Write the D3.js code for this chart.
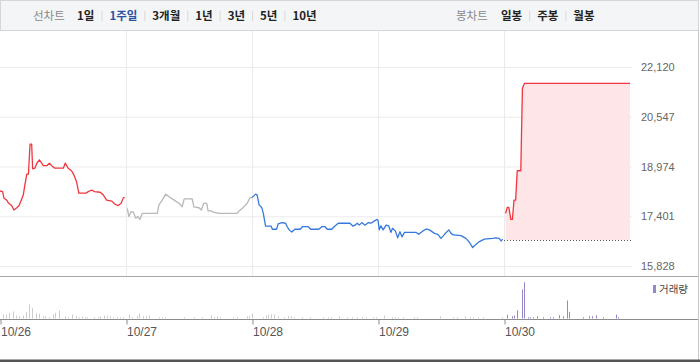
<!DOCTYPE html>
<html>
<head>
<meta charset="utf-8">
<script src="https://cdn.jsdelivr.net/npm/d3@7.9.0/dist/d3.min.js"></script>
<style>
  body { margin: 0; background: #fff; }
  svg { display: block; font-family: "Liberation Sans", Arial, sans-serif; }
  .kr { font-family: "Noto Sans CJK KR", sans-serif; }
</style>
</head>
<body>
<svg id="chart" width="700" height="362"></svg>
<script>
// ---- data ----
const days = ['10/26', '10/27', '10/28', '10/29', '10/30'];
const dayTrend = ['up', 'flat', 'down', 'down', 'up'];
const yTicks = [15828, 17401, 18974, 20547, 22120];
const prevClose = 16650;

const lineTypes = ['1일', '1주일', '3개월', '1년', '3년', '5년', '10년'];
const candleTypes = ['일봉', '주봉', '월봉'];

// [minutes since 09:00, price]
const price1026 = [
  [0, 18200], [8, 18180], [12, 17980], [21, 17910], [26, 17820], [36, 17740], [43, 17600],
  [52, 17670], [59, 17740], [64, 17860], [72, 18070], [77, 18390], [83, 18730], [88, 18730],
  [93, 19680], [98, 19680], [101, 18900], [108, 18920], [114, 19080], [122, 19180], [129, 19080],
  [134, 19000], [145, 19000], [153, 19080], [160, 19000], [170, 18920], [196, 18920], [202, 19080],
  [211, 18920], [222, 18830], [229, 18700], [237, 18490], [244, 18130], [266, 18130], [273, 18180],
  [284, 18230], [292, 18180], [310, 18160], [320, 18070], [330, 17910], [346, 17880], [356, 17780],
  [366, 17740], [375, 17810], [382, 17990], [386, 17990],
];
const price1027 = [
  [4, 17650], [9, 17390], [16, 17550], [23, 17530], [30, 17340], [37, 17390], [43, 17300],
  [50, 17490], [97, 17490], [102, 17760], [112, 17910], [123, 18100], [133, 18020], [149, 17910],
  [164, 17810], [174, 17700], [180, 17950], [205, 17950], [210, 17700], [226, 17670], [233, 17600],
  [241, 17810], [250, 17810], [254, 17570], [264, 17570], [270, 17530], [288, 17490], [344, 17490],
  [350, 17570], [360, 17650], [375, 17810], [384, 17990], [390, 17990],
];
const price1028 = [
  [0, 17990], [11, 18100], [16, 18070], [22, 17760], [30, 17680], [35, 17490], [42, 17090],
  [59, 17090], [63, 16990], [76, 16990], [81, 17160], [92, 17200], [104, 17180], [109, 17070],
  [115, 16970], [123, 16900], [133, 16990], [149, 16990], [156, 17070], [174, 17070], [182, 16990],
  [207, 16990], [216, 17070], [226, 17070], [233, 16990], [247, 16990], [254, 17070], [267, 17180],
  [303, 17180], [312, 17090], [319, 17120], [326, 17180], [332, 17120], [340, 17200], [350, 17120],
  [360, 17200], [368, 17180], [376, 17230], [386, 17300], [390, 17280],
];
const price1029 = [
  [0, 17280], [4, 16970], [9, 17100], [16, 16970], [25, 17120], [33, 17100], [40, 16890],
  [45, 17020], [54, 16930], [61, 16720], [68, 16910], [74, 16750], [82, 16890], [118, 16890],
  [126, 16830], [138, 16930], [149, 17000], [159, 16970], [175, 16860], [185, 16830], [195, 16700],
  [206, 16830], [219, 16970], [226, 16860], [233, 16810], [257, 16790], [272, 16700], [283, 16580],
  [293, 16410], [301, 16490], [314, 16600], [329, 16680], [355, 16700], [365, 16720], [375, 16700],
  [381, 16620], [386, 16680],
];
const price1030 = [
  [5, 17490], [10, 17680], [15, 17680], [21, 17300], [26, 17300], [31, 17910], [36, 17910],
  [41, 18840], [52, 18840], [57, 21450], [63, 21600], [390, 21600],
];
const prices = [price1026, price1027, price1028, price1029, price1030];

// [minutes since 09:00, volume (thousand shares)]
const vol1026 = [
  [10, 40], [18, 40], [29, 57], [39, 70], [50, 30], [59, 23], [70, 30], [80, 63], [91, 140],
  [100, 107], [111, 50], [121, 47], [132, 23], [140, 23], [153, 13], [163, 40], [170, 57],
  [182, 80], [202, 23], [211, 13], [222, 40], [234, 23], [244, 13], [253, 23], [263, 13],
  [270, 13], [292, 13], [302, 13], [310, 23], [323, 30], [330, 30], [340, 23], [351, 13],
  [361, 13], [371, 13], [382, 13],
];
const vol1027 = [
  [10, 40], [20, 13], [33, 23], [41, 50], [52, 23], [61, 23], [72, 30], [101, 13], [110, 13],
  [120, 13], [180, 13], [211, 13], [234, 13], [262, 30], [273, 13], [283, 23], [291, 13],
  [332, 13], [343, 13], [373, 23], [382, 23],
];
const vol1028 = [
  [1, 50], [35, 13], [42, 30], [50, 40], [59, 40], [68, 40], [81, 23], [99, 13], [112, 23],
  [121, 23], [131, 13], [154, 13], [180, 13], [221, 13], [234, 13], [245, 13], [270, 23],
  [293, 13], [311, 13], [326, 13], [342, 13], [353, 13], [374, 13], [384, 13],
];
const vol1029 = [
  [20, 30], [42, 13], [53, 13], [63, 13], [78, 13], [112, 13], [120, 13], [192, 23], [233, 13],
  [243, 13], [269, 23], [285, 13], [295, 13], [310, 13], [324, 13], [383, 13],
];
const vol1030 = [
  [10, 37], [24, 23], [32, 30], [41, 83], [57, 290], [63, 363], [73, 13], [80, 13], [91, 13],
  [103, 23], [121, 13], [142, 13], [153, 13], [171, 33], [184, 23], [194, 180], [202, 67],
  [244, 13], [264, 23], [273, 23], [284, 33], [306, 13], [346, 40], [354, 13],
];
const volumes = [vol1026, vol1027, vol1028, vol1029, vol1030];

const trendColor = { up: '#f2353f', flat: '#b8b8b8', down: '#3679dc' };
const sessionMinutes = 390;

// ---- chart ----
const svg = d3.select('#chart');

// toolbar
svg.append('rect')
  .attr('x', 0.5).attr('y', 0.5)
  .attr('width', 698).attr('height', 30)
  .attr('fill', '#f4f5f7')
  .attr('stroke', '#d4d6da');

function drawMenu(label, items, selected, labelX, itemX) {
  const g = svg.append('g').attr('class', 'kr').style('font-size', '11.5px');
  g.append('text')
    .attr('x', labelX).attr('y', 16).attr('dy', '0.35em')
    .attr('fill', '#8a8a8a')
    .text(label);

  let cx = itemX;
  items.forEach((item, i) => {
    if (i > 0) {
      g.append('line')
        .attr('x1', cx + 7.5).attr('x2', cx + 7.5)
        .attr('y1', 11).attr('y2', 21)
        .attr('stroke', '#d8d8d8');
      cx += 15;
    }
    const t = g.append('text')
      .attr('x', cx).attr('y', 16).attr('dy', '0.35em')
      .attr('font-weight', 'bold')
      .attr('fill', item === selected ? '#2c50a4' : '#222')
      .text(item);
    cx += t.node().getComputedTextLength();
  });
}

drawMenu('선차트', lineTypes, '1주일', 33, 77);
drawMenu('봉차트', candleTypes, null, 456, 501);

const x = d3.scaleLinear().domain([0, days.length]).range([0, 630]);
const y = d3.scaleLinear().domain([yTicks[0], yTicks[yTicks.length - 1]]).range([266, 67]);
const yv = d3.scaleLinear().domain([0, 400]).range([318.5, 278.5]);

const tx = (dayIndex, min) => x(dayIndex + min / sessionMinutes);

// horizontal gridlines
svg.append('g')
  .attr('class', 'grid')
  .call(d3.axisLeft(y).tickValues(yTicks).tickSize(-632).tickFormat(''))
  .call((g) => g.select('.domain').remove())
  .call((g) => g.selectAll('line').attr('stroke', '#ebebeb'));

// vertical day gridlines
svg.append('g')
  .selectAll('line')
  .data(d3.range(1, days.length))
  .join('line')
  .attr('x1', (d) => x(d) + 0.5)
  .attr('x2', (d) => x(d) + 0.5)
  .attr('y1', 31)
  .attr('y2', 276)
  .attr('stroke', '#ebebeb');

// y labels
svg.append('g')
  .attr('transform', 'translate(641,0)')
  .call(d3.axisRight(y).tickValues(yTicks).tickSize(0).tickPadding(0).tickFormat(d3.format(',')))
  .call((g) => g.select('.domain').remove())
  .call((g) => g.selectAll('text')
    .attr('fill', '#666')
    .style('font-size', '11px')
    .style('font-family', '"Liberation Sans", Arial, sans-serif'));

// today's area
const lastDay = days.length - 1;
const area = d3.area()
  .x((d) => tx(lastDay, d[0]))
  .y0(y(prevClose))
  .y1((d) => y(d[1]));

svg.append('path')
  .datum(price1030)
  .attr('d', area)
  .attr('fill', '#fde5e8');

svg.append('line')
  .attr('x1', x(lastDay))
  .attr('x2', x(days.length) + 2)
  .attr('y1', Math.round(y(prevClose)) + 0.5)
  .attr('y2', Math.round(y(prevClose)) + 0.5)
  .attr('stroke', '#555')
  .attr('stroke-dasharray', '1,2');

// price lines, one per day
prices.forEach((series, i) => {
  const line = d3.line()
    .x((d) => tx(i, d[0]))
    .y((d) => y(d[1]));

  svg.append('path')
    .datum(series)
    .attr('d', line)
    .attr('fill', 'none')
    .attr('stroke', trendColor[dayTrend[i]])
    .attr('stroke-width', 1.3)
    .attr('stroke-linejoin', 'round');
});

// panel separator
svg.append('line')
  .attr('x1', 0).attr('x2', 698)
  .attr('y1', 276.5).attr('y2', 276.5)
  .attr('stroke', '#a8a8a8');

// volume bars
volumes.forEach((series, i) => {
  svg.append('g')
    .selectAll('rect')
    .data(series)
    .join('rect')
    .attr('x', (d) => Math.round(tx(i, d[0])))
    .attr('y', (d) => yv(d[1]))
    .attr('width', 1)
    .attr('height', (d) => yv(0) - yv(d[1]))
    .attr('fill', i === lastDay ? '#9a85cc' : '#cccccc');
});

// x axis
svg.append('line')
  .attr('x1', 0).attr('x2', 698)
  .attr('y1', 319.5).attr('y2', 319.5)
  .attr('stroke', '#8c8c8c');

svg.append('g')
  .attr('transform', 'translate(0.5,319.5)')
  .call(d3.axisBottom(x).tickValues(d3.range(days.length)).tickSize(5).tickFormat((d) => days[d]))
  .call((g) => g.select('.domain').remove())
  .call((g) => g.selectAll('line').attr('stroke', '#8c8c8c'))
  .call((g) => g.selectAll('text')
    .attr('text-anchor', 'start')
    .attr('x', 0)
    .attr('fill', '#555')
    .style('font-size', '12px')
    .style('font-family', '"Liberation Sans", Arial, sans-serif'));

// legend
svg.append('rect')
  .attr('x', 653).attr('y', 285)
  .attr('width', 3).attr('height', 8)
  .attr('fill', '#9a85cc');
svg.append('text')
  .attr('class', 'kr')
  .attr('x', 659).attr('y', 289).attr('dy', '0.35em')
  .attr('fill', '#444')
  .style('font-size', '10.5px')
  .text('거래량');

// frame
svg.append('line')
  .attr('x1', 698.5).attr('x2', 698.5)
  .attr('y1', 30).attr('y2', 360)
  .attr('stroke', '#c8c8c8');
svg.append('rect')
  .attr('x', 0).attr('y', 359.5)
  .attr('width', 700).attr('height', 2.5)
  .attr('fill', '#555');
</script>
</body>
</html>
